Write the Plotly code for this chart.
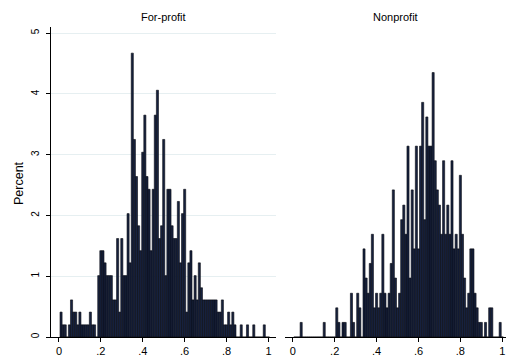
import numpy as np
import plotly.graph_objects as go

# ---- data (percent of observations per bin) ----
BIN_START = 0.005
BIN_WIDTH = 0.01

forprofit_pct = [
    0.41, 0.20, 0.20, 0.00, 0.20, 0.61, 0.41, 0.41, 0.20, 0.41,
    0.20, 0.20, 0.20, 0.20, 0.41, 0.20, 0.20, 0.00, 1.01, 1.42,
    1.42, 1.22, 1.01, 1.01, 1.01, 0.61, 0.61, 1.62, 0.41, 1.62,
    1.01, 1.01, 2.03, 1.22, 4.67, 3.25, 2.64, 1.83, 1.42, 3.04,
    3.65, 2.64, 2.43, 1.42, 2.43, 3.65, 4.06, 1.62, 1.83, 3.25,
    1.01, 2.43, 2.43, 1.83, 1.62, 1.62, 2.23, 1.22, 2.03, 2.43,
    0.41, 1.22, 1.42, 0.61, 1.01, 0.61, 1.22, 0.81, 0.61, 0.61,
    0.61, 0.61, 0.61, 0.61, 0.61, 0.41, 0.41, 0.61, 0.20, 0.20,
    0.41, 0.20, 0.41, 0.20, 0.00, 0.00, 0.20, 0.00, 0.00, 0.20,
    0.00, 0.00, 0.20, 0.00, 0.00, 0.00, 0.00, 0.20, 0.00, 0.00,
]

nonprofit_pct = [
    0.00, 0.00, 0.00, 0.24, 0.00, 0.00, 0.00, 0.00, 0.00, 0.00,
    0.00, 0.00, 0.00, 0.00, 0.24, 0.00, 0.00, 0.00, 0.00, 0.00,
    0.48, 0.24, 0.00, 0.24, 0.24, 0.00, 0.00, 0.72, 0.24, 0.00,
    0.72, 0.48, 0.00, 1.45, 0.97, 0.72, 1.21, 1.69, 0.48, 0.72,
    0.48, 0.72, 1.69, 0.72, 0.48, 0.72, 1.21, 2.42, 0.97, 0.48,
    0.72, 1.93, 2.17, 1.69, 3.14, 0.97, 2.42, 1.45, 3.14, 1.45,
    3.14, 3.86, 1.93, 3.62, 3.14, 3.14, 4.35, 2.90, 2.42, 2.17,
    1.69, 2.90, 1.69, 2.17, 1.69, 2.90, 1.45, 1.69, 1.45, 2.66,
    1.69, 0.97, 0.48, 0.72, 1.45, 1.45, 0.72, 0.48, 0.24, 0.24,
    0.00, 0.24, 0.00, 0.48, 0.48, 0.00, 0.00, 0.00, 0.24, 0.00,
]

panel_titles = ["For-profit", "Nonprofit"]
x_tickvals = [0, 0.2, 0.4, 0.6, 0.8, 1]
x_ticktext = ["0", ".2", ".4", ".6", ".8", "1"]
y_tickvals = [0, 1, 2, 3, 4, 5]
y_ticktext = ["0", "1", "2", "3", "4", "5"]
y_title = "Percent"

# ---- figure ----
W, H = 506, 360
ML, MR, MT, MB = 51, 0, 27, 23
pw = W - ML - MR
ph = H - MT - MB

left_dom = [0, 225 / pw]
right_dom = [(285 - ML) / pw, 1]

centers = BIN_START + BIN_WIDTH * (np.arange(len(forprofit_pct)) + 0.5)

FILL = "#17223f"
EDGE = "#07090f"
FONT = "Liberation Sans, Arial, sans-serif"

fig = go.Figure()
fig.add_trace(go.Bar(x=centers, y=forprofit_pct, width=BIN_WIDTH,
                     marker=dict(color=FILL, line=dict(color=EDGE, width=0.6)),
                     xaxis="x", yaxis="y", showlegend=False, hoverinfo="skip"))
fig.add_trace(go.Bar(x=centers, y=nonprofit_pct, width=BIN_WIDTH,
                     marker=dict(color=FILL, line=dict(color=EDGE, width=0.6)),
                     xaxis="x2", yaxis="y2", showlegend=False, hoverinfo="skip"))

xcommon = dict(tickvals=x_tickvals, ticktext=x_ticktext, ticks="outside", ticklen=4,
               tickcolor="black", showline=True, linecolor="black", linewidth=1,
               showgrid=False, zeroline=False,
               tickfont=dict(family=FONT, size=11, color="black"))
ycommon = dict(range=[0, 5.1], tickvals=y_tickvals, ticktext=y_ticktext,
               zeroline=False)

fig.update_layout(
    width=W, height=H,
    margin=dict(l=ML, r=MR, t=MT, b=MB),
    paper_bgcolor="white", plot_bgcolor="white",
    barmode="overlay",
    xaxis=dict(domain=left_dom, range=[-0.038, 1.036], anchor="y", **xcommon),
    xaxis2=dict(domain=right_dom, range=[-0.0372, 1.0178], anchor="y2", **xcommon),
    yaxis=dict(anchor="x", showline=True, linecolor="black", linewidth=1,
               ticks="outside", ticklen=4, tickcolor="black", tickangle=-90,
               showgrid=True, gridcolor="#e6eff1", gridwidth=1,
               ticklabelstandoff=3,
               tickfont=dict(family=FONT, size=10, color="black"), **ycommon),
    yaxis2=dict(anchor="x2", showline=False, showticklabels=False, ticks="",
                showgrid=False, **ycommon),
    font=dict(family=FONT, color="black"),
)

fig.add_annotation(text=panel_titles[0], xref="paper", yref="paper",
                   x=(left_dom[0] + left_dom[1]) / 2, y=1 + 10 / ph,
                   xanchor="center", yanchor="middle", showarrow=False,
                   font=dict(family=FONT, size=11, color="black"))
fig.add_annotation(text=panel_titles[1], xref="paper", yref="paper",
                   x=(right_dom[0] + right_dom[1]) / 2, y=1 + 10 / ph,
                   xanchor="center", yanchor="middle", showarrow=False,
                   font=dict(family=FONT, size=11, color="black"))
fig.add_annotation(text=y_title, xref="paper", yref="paper",
                   x=(19 - ML) / pw, y=(337 - 183) / ph, textangle=-90,
                   xanchor="center", yanchor="middle", showarrow=False,
                   font=dict(family=FONT, size=12.5, color="black"))

fig.write_html("out.html", config={"displayModeBar": False},
               post_script="document.body.style.margin='0';document.body.style.padding='0';document.body.style.overflow='hidden';")
